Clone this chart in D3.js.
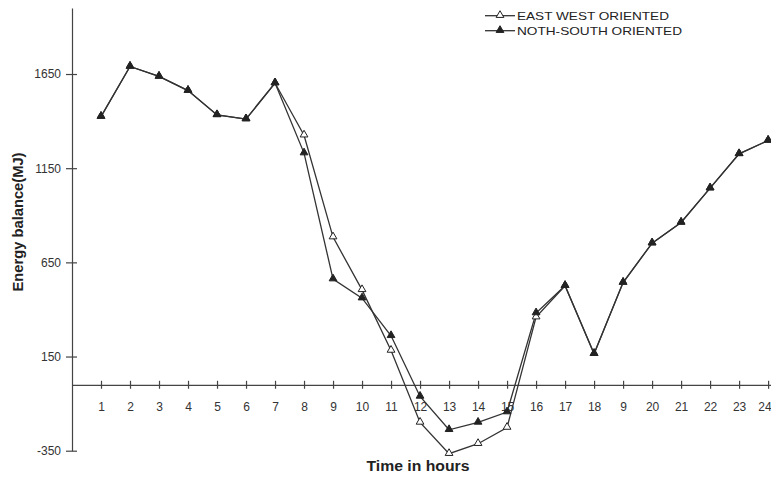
<!DOCTYPE html>
<html>
<head>
<meta charset="utf-8">
<script src="https://cdn.jsdelivr.net/npm/d3@7"></script>
<style>
  body { margin: 0; background: #fff; }
  svg { font-family: "Liberation Sans", Arial, sans-serif; }
  .axis text { fill: #333; font-size: 12px; }
  .axis line, .axis path { stroke: #444; stroke-width: 1.2; }
</style>
</head>
<body>
<div id="chart"></div>
<script>
// hours of the day and the printed tick labels (the source prints "9" for 19)
const hours = [1, 2, 3, 4, 5, 6, 7, 8, 9, 10, 11, 12, 13, 14, 15, 16, 17, 18, 19, 20, 21, 22, 23, 24]
const hourLabels = ["1", "2", "3", "4", "5", "6", "7", "8", "9", "10", "11", "12", "13", "14", "15", "16", "17", "18", "9", "20", "21", "22", "23", "24"]
const yTicks = [-350, 150, 650, 1150, 1650]

// energy balance (MJ)
const eastWest = [1424, 1690, 1637, 1562, 1433, 1411, 1602, 1325, 784, 504, 182, -200, -366, -313, -227, 359, 526, 165, 543, 752, 862, 1044, 1226, 1297]
const northSouth = [1424, 1690, 1637, 1562, 1433, 1411, 1602, 1230, 561, 460, 260, -62, -239, -200, -145, 381, 526, 165, 543, 752, 862, 1044, 1226, 1297]

const seriesNames = ["EAST WEST ORIENTED", "NOTH-SOUTH ORIENTED"]

const width = 771, height = 477

const svg = d3.select("#chart").append("svg")
    .attr("width", width)
    .attr("height", height)

const xScale = d3.scaleLinear()
    .domain([0, 24.1])
    .range([72, 771])
const yScale = d3.scaleLinear()
    .domain([-350, 2000])
    .range([450.7, 8.1])

// y axis, ticks cross the line
const yAxis = d3.axisLeft(yScale)
    .tickValues(yTicks)
    .tickFormat(d => String(d))
    .tickSizeInner(6)
    .tickSizeOuter(0)
    .tickPadding(5)
const yAxisGroup = svg.append("g")
    .attr("class", "axis y-axis")
    .attr("transform", `translate(${xScale(0)},0)`)
    .call(yAxis)
yAxisGroup.selectAll(".tick line").attr("x1", 5)

// x axis sits on zero
const xAxis = d3.axisBottom(xScale)
    .tickValues(hours)
    .tickFormat((d, i) => hourLabels[i])
    .tickSizeInner(4)
    .tickSizeOuter(0)
const xAxisGroup = svg.append("g")
    .attr("class", "axis x-axis")
    .attr("transform", `translate(0,${yScale(0)})`)
    .call(xAxis)
xAxisGroup.selectAll(".tick line").attr("y1", -4)
xAxisGroup.selectAll(".tick text").attr("y", 26).attr("dy", null)
// last label sits right on the page edge
xAxisGroup.selectAll(".tick text").filter(d => d === 24)
    .attr("text-anchor", "end")
    .attr("x", 3)

// axis titles
svg.append("text")
    .attr("x", 418)
    .attr("y", 471)
    .attr("text-anchor", "middle")
    .attr("textLength", 103)
    .attr("lengthAdjust", "spacingAndGlyphs")
    .style("font-size", "14px")
    .style("font-weight", "bold")
    .style("fill", "#222")
    .text("Time in hours")

svg.append("text")
    .attr("transform", "translate(23,222) rotate(-90)")
    .attr("text-anchor", "middle")
    .attr("textLength", 139)
    .attr("lengthAdjust", "spacingAndGlyphs")
    .style("font-size", "14px")
    .style("font-weight", "bold")
    .style("fill", "#222")
    .text("Energy balance(MJ)")

const line = d3.line()
    .x((d, i) => xScale(hours[i]))
    .y(d => yScale(d))

const triangle = d3.symbol().type(d3.symbolTriangle).size(26)

const series = [
    { name: seriesNames[0], values: eastWest, fill: "#fff" },
    { name: seriesNames[1], values: northSouth, fill: "#222" }
]

series.forEach(function (s) {
    svg.append("path")
        .datum(s.values)
        .attr("fill", "none")
        .attr("stroke", "#333")
        .attr("stroke-width", 1.3)
        .attr("d", line)
})
series.forEach(function (s) {
    svg.selectAll(null)
        .data(s.values)
        .join("path")
            .attr("d", triangle)
            .attr("transform", (d, i) => `translate(${xScale(hours[i])},${yScale(d) - 0.5})`)
            .attr("fill", s.fill)
            .attr("stroke", "#222")
            .attr("stroke-width", 1)
})

// legend
const legend = svg.append("g").attr("class", "legend")
const legendLengths = [152, 165]
series.forEach(function (s, i) {
    const ly = 15.7 + i * 15
    legend.append("line")
        .attr("x1", 485).attr("x2", 515)
        .attr("y1", ly).attr("y2", ly)
        .attr("stroke", "#333")
        .attr("stroke-width", 1.3)
    legend.append("path")
        .attr("d", triangle)
        .attr("transform", `translate(500,${ly - 0.5})`)
        .attr("fill", s.fill)
        .attr("stroke", "#222")
    legend.append("text")
        .attr("x", 517)
        .attr("y", ly + 4.5)
        .attr("textLength", legendLengths[i])
        .attr("lengthAdjust", "spacingAndGlyphs")
        .style("font-size", "11.5px")
        .style("fill", "#222")
        .text(s.name)
})
</script>
</body>
</html>
